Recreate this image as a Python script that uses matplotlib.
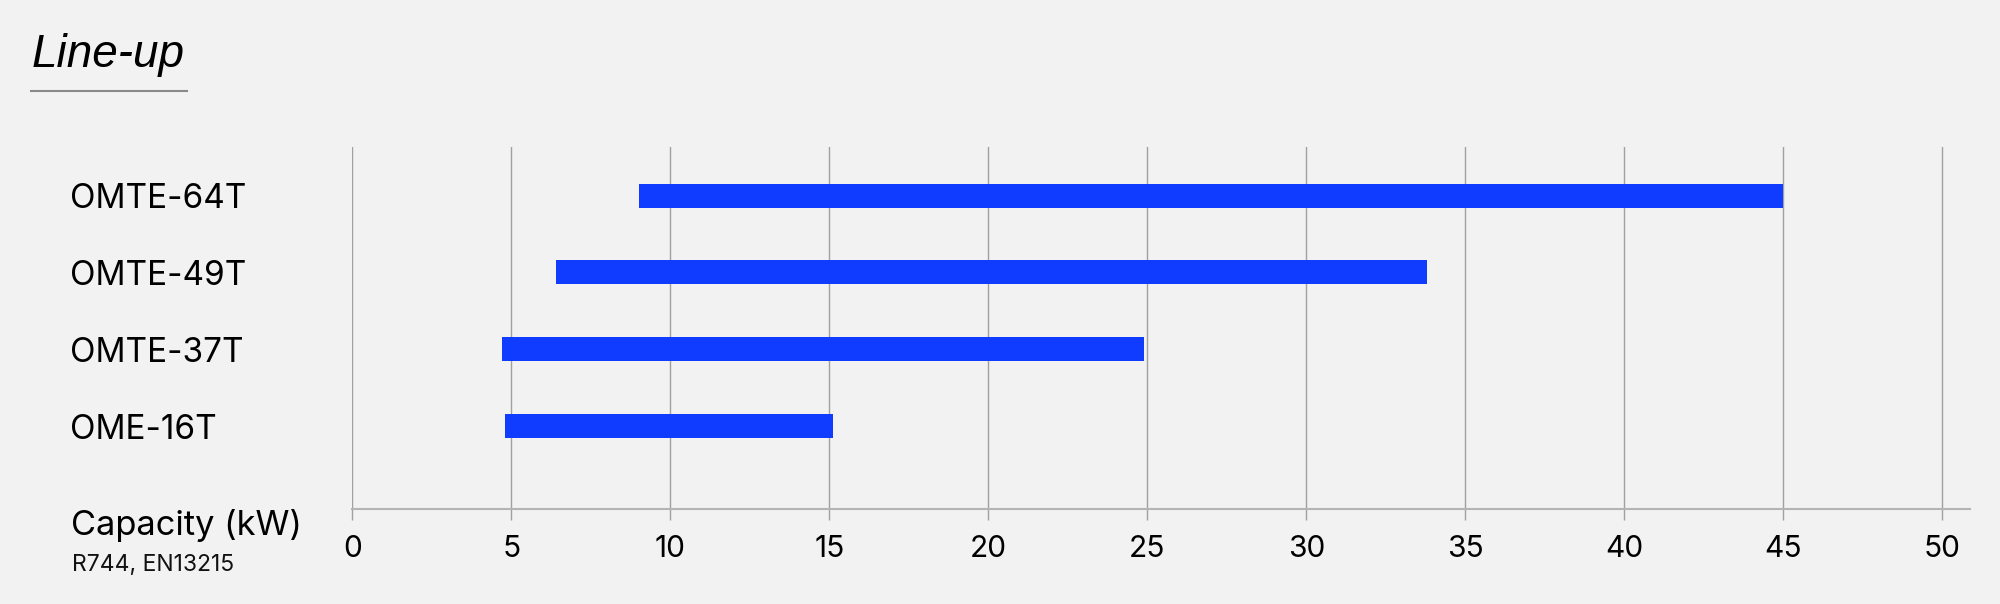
import matplotlib
matplotlib.use("Agg")
import matplotlib.pyplot as plt
import matplotlib.transforms as mtransforms
from matplotlib.lines import Line2D

plt.rcParams["font.family"] = ["Inter", "DejaVu Sans"]

# Data (capacity ranges in kW)
models = ["OMTE-64T", "OMTE-49T", "OMTE-37T", "OME-16T"]
cap_min = [9.0, 6.4, 4.7, 4.8]
cap_max = [45.0, 33.8, 24.9, 15.1]
xticks = [0, 5, 10, 15, 20, 25, 30, 35, 40, 45, 50]

BG = "#f2f2f2"
BAR = "#0f3cff"
GRID = "#a0a0a0"

fig = plt.figure(figsize=(20, 6.04), dpi=100, facecolor=BG)
ax = fig.add_axes([0.1762, 0.1568, 0.985 - 0.1762, 0.756 - 0.1568])
ax.set_facecolor(BG)

ypos = list(range(len(models)))[::-1]
widths = [b - a for a, b in zip(cap_min, cap_max)]
ax.barh(ypos, widths, left=cap_min, height=0.3125, color=BAR, zorder=3)

ax.set_xlim(0, 50.87)
ax.set_ylim(-1.085, 3.63)
ax.set_xticks(xticks)
ax.set_yticks([])
ax.grid(axis="x", color=GRID, linewidth=1.0, zorder=0)
ax.tick_params(axis="x", direction="out", length=8, width=1.0, color=GRID,
               labelsize=21.5, pad=10.5, labelcolor="black")

for s in ["left", "right", "top"]:
    ax.spines[s].set_visible(False)
ax.spines["bottom"].set_color("#b4b4b4")
ax.spines["bottom"].set_linewidth(1.5)

# model labels at left
trans = mtransforms.blended_transform_factory(fig.transFigure, ax.transData)
for y, name in zip(ypos, models):
    ax.text(70 / 2000, y, name, transform=trans, ha="left", va="center_baseline",
            fontsize=24, color="black")

# axis caption
fig.text(71 / 2000, 1 - 535 / 604, "Capacity (kW)", ha="left", va="baseline",
         fontsize=24.8, color="black")
fig.text(72 / 2000, 1 - 571 / 604, "R744, EN13215", ha="left", va="baseline",
         fontsize=16.5, color="#111111")

# title with underline
fig.text(32 / 2000, 1 - 67 / 604, "Line-up", ha="left", va="baseline",
         fontsize=33, style="italic", color="black",
         family=["Liberation Sans", "DejaVu Sans"])
fig.add_artist(Line2D([30.7 / 2000, 187 / 2000], [1 - 90.7 / 604] * 2,
                      transform=fig.transFigure, color="#8a8a8a", linewidth=1.5))

fig.savefig("out.png", dpi=100, facecolor=BG)
